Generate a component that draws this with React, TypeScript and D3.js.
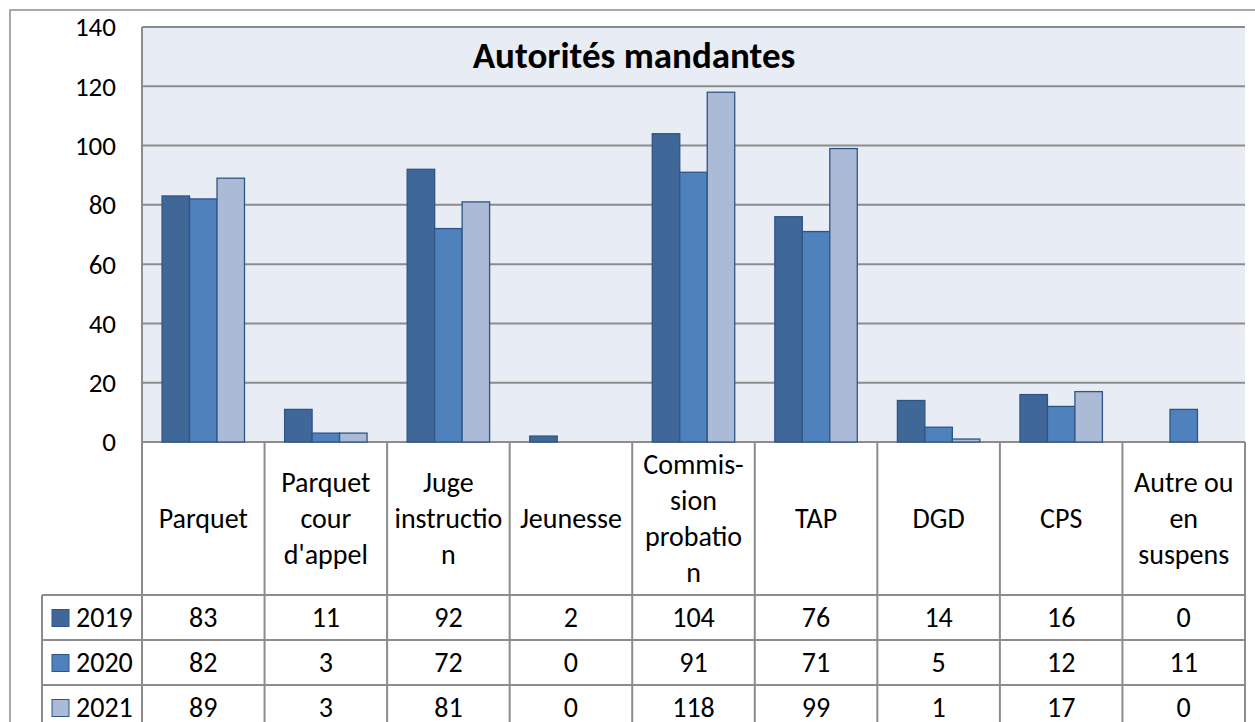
import React from 'react'
import * as d3 from 'd3'

const categories = [
  ['Parquet'],
  ['Parquet', 'cour', "d'appel"],
  ['Juge', 'instructio', 'n'],
  ['Jeunesse'],
  ['Commis-', 'sion', 'probatio', 'n'],
  ['TAP'],
  ['DGD'],
  ['CPS'],
  ['Autre ou', 'en', 'suspens'],
]
const years = ['2019', '2020', '2021']
const v2019 = [83, 11, 92, 2, 104, 76, 14, 16, 0]
const v2020 = [82, 3, 72, 0, 91, 71, 5, 12, 11]
const v2021 = [89, 3, 81, 0, 118, 99, 1, 17, 0]
const yTicks = [0, 20, 40, 60, 80, 100, 120, 140]
const colors = ['#3F6899', '#4F81BD', '#AABAD7']

const series = [v2019, v2020, v2021]

const W = 1255
const H = 722
const left = 142
const right = 1245
const top = 27
const zero = 442
const headerBottom = 595
const rowH = 45
const legendLeft = 42
const font = 'Carlito, Calibri, Lato, sans-serif'
const gridColor = '#8C8C8C'

export default function App() {
  const x = d3.scaleBand().domain(categories.map((_, i) => String(i))).range([left, right])
  const inner = d3.scaleBand().domain(years).range([0, x.bandwidth()]).paddingOuter(0.73).paddingInner(0)
  const y = d3.scaleLinear().domain([0, 140]).range([zero, top])

  return (
    <svg width={W} height={H} style={{ position: 'absolute', left: 0, top: 0, background: '#fff' }} fontFamily={font}>
      {/* outer chart border */}
      <rect x={10} y={10} width={W + 10} height={H + 10} fill="none" stroke="#8C8C8C" strokeWidth={1.5} />
      {/* plot background */}
      <rect x={left} y={top} width={right - left} height={zero - top} fill="#E8ECF4" />
      {yTicks.map(t => (
        <g key={t}>
          <line x1={left} x2={right} y1={y(t)} y2={y(t)} stroke={gridColor} strokeWidth={2} />
          <text x={116} y={y(t)} dy="0.35em" textAnchor="end" fontSize={27} fill="#000">{t}</text>
        </g>
      ))}
      <line x1={left} x2={left} y1={top} y2={H} stroke={gridColor} strokeWidth={2} />

      <text x={634} y={55} dy="0.35em" textAnchor="middle" fontSize={37} fontWeight="bold">Autorités mandantes</text>

      {series.map((vals, si) => vals.map((v, ci) => v > 0 && (
        <rect
          key={si + '-' + ci}
          x={(x(String(ci)) ?? 0) + (inner(years[si]) ?? 0)}
          y={y(v)}
          width={inner.bandwidth()}
          height={zero - y(v)}
          fill={colors[si]}
          stroke="#2E5586"
          strokeWidth={1.3}
        />
      )))}

      {/* data table */}
      {categories.map((_, ci) => {
        const x1 = (x(String(ci)) ?? 0) + x.bandwidth()
        return <line key={ci} x1={x1} x2={x1} y1={zero} y2={H} stroke={gridColor} strokeWidth={2} />
      })}
      {years.map((_, ri) => (
        <line key={ri} x1={legendLeft} x2={right} y1={headerBottom + ri * rowH} y2={headerBottom + ri * rowH} stroke={gridColor} strokeWidth={2} />
      ))}
      <line x1={legendLeft} x2={legendLeft} y1={headerBottom} y2={H} stroke={gridColor} strokeWidth={2} />

      {categories.map((lines, ci) => {
        const cx = (x(String(ci)) ?? 0) + x.bandwidth() / 2
        const mid = (zero + headerBottom) / 2
        const lh = 36
        return (
          <text key={ci} textAnchor="middle" fontSize={28}>
            {lines.map((l, li) => (
              <tspan key={li} x={cx} y={mid + (li - (lines.length - 1) / 2) * lh} dy="0.35em">{l}</tspan>
            ))}
          </text>
        )
      })}

      {years.map((yr, ri) => {
        const cy = headerBottom + ri * rowH + rowH / 2
        return (
          <g key={yr}>
            <rect x={52} y={cy - 8} width={17} height={17} fill={colors[ri]} stroke="#2E5586" strokeWidth={1} />
            <text x={76} y={cy} dy="0.35em" fontSize={28}>{yr}</text>
            {series[ri].map((v, ci) => (
              <text key={ci} x={(x(String(ci)) ?? 0) + x.bandwidth() / 2} y={cy} dy="0.35em" textAnchor="middle" fontSize={28}>{v}</text>
            ))}
          </g>
        )
      })}
    </svg>
  )
}
